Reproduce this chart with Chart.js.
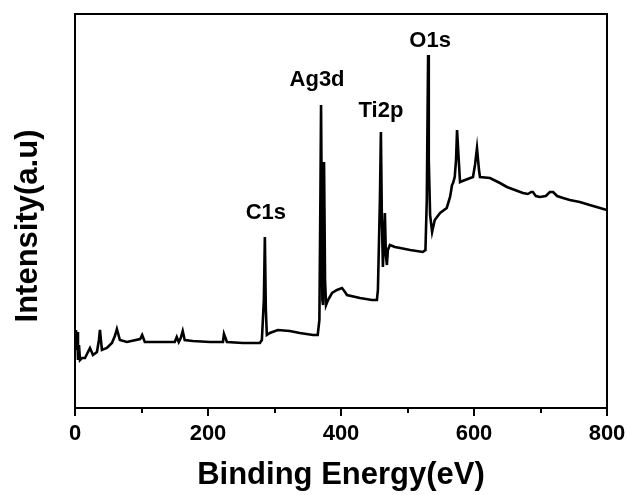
<!DOCTYPE html>
<html lang="en">
<head>
  <meta charset="UTF-8">
  <title>XPS survey spectrum</title>
  <script src="https://cdn.jsdelivr.net/npm/chart.js"></script>
  <style>
    body {
      margin: 0;
      padding: 0;
      background: #fff;
    }
    #xps {
      display: block;
    }
  </style>
</head>
<body>
  <canvas id="xps" width="627" height="495"></canvas>

  <script>
    // Binding energy (eV) and intensity (a.u.)
    const energy = [
      0.8, 1.5, 2.5, 3.5, 4.5, 6, 7.5, 10.5, 15, 19.5, 22.5, 27, 33, 36, 37.5, 40.5,
      48, 55.5, 60, 63, 67.5, 78, 98, 101, 105, 128, 150, 153, 156, 159, 162, 165,
      177, 203, 222.5, 224, 228.5, 252.5, 278, 281, 284, 285.5, 287, 288.5, 293, 305,
      323, 338, 358, 365, 367.5, 369, 370, 371.5, 372, 373, 374.5, 376, 377.5, 380.5,
      386.5, 394, 401.5, 406, 409, 428.5, 446.5, 454, 455.5, 458.5, 460, 461.5, 463,
      464.5, 466, 467.5, 469, 470.5, 473.5, 481, 489, 504, 523, 527, 529, 531, 532,
      534, 537, 541, 549, 559, 564, 567, 568.5, 571, 573, 574.5, 577.5, 579, 586.5,
      598.5, 601.5, 604.5, 607.5, 609, 624, 639, 649.5, 661.5, 673.5, 681, 686, 688.5,
      693, 699, 708, 714, 719, 725, 734, 744, 759, 774, 789.5, 800
    ];
    const intensity = [
      63, 78, 58, 76, 48, 63, 48, 50, 50, 56, 60, 53, 56, 68, 78, 58,
      60, 65, 72, 79, 68, 66, 69, 73, 66, 66, 66, 71, 66, 70, 77, 68,
      67, 66, 66, 74, 66, 65, 65, 68, 108, 171, 98, 73, 75, 78,
      77, 75, 73, 73, 88, 208, 303, 158, 108, 103, 246, 128, 103, 108,
      115, 118, 120, 116, 113, 110, 108, 108, 118, 208, 276, 188, 141,
      168, 195, 153, 143, 158, 163, 161, 160, 158, 156, 158, 208, 353, 248,
      193, 176, 188, 195, 200, 211, 223, 225, 231, 248, 278, 243, 226, 228,
      231, 243, 260, 238, 231, 230, 225, 221, 218, 215, 214, 216, 216,
      212, 211, 212, 216, 216, 212, 210, 208, 206, 203, 200, 198
    ];

    // peak labels, anchored at (energy, intensity) of the text centre
    const peakNames = ['C1s', 'Ag3d', 'Ti2p', 'O1s'];
    const peakLabelEnergy = [287, 364, 460, 534];
    const peakLabelHeight = [195, 328, 297, 367];

    const xMajorTicks = [0, 200, 400, 600, 800];
    const xMinorTicks = [100, 300, 500, 700];

    const FONT = '"Liberation Sans", Arial, sans-serif';

    const framePlugin = {
      id: 'frame',
      afterDraw(chart) {
        const { ctx, chartArea: a, scales } = chart;
        const xs = scales.x, ys = scales.y;
        ctx.save();
        ctx.strokeStyle = '#000';
        ctx.lineWidth = 2;
        ctx.strokeRect(a.left, a.top, a.right - a.left, a.bottom - a.top);

        // tick marks pointing out of the bottom axis
        ctx.beginPath();
        xMajorTicks.forEach(v => {
          const px = Math.round(xs.getPixelForValue(v));
          ctx.moveTo(px, a.bottom);
          ctx.lineTo(px, a.bottom + 8);
        });
        xMinorTicks.forEach(v => {
          const px = Math.round(xs.getPixelForValue(v));
          ctx.moveTo(px, a.bottom);
          ctx.lineTo(px, a.bottom + 5);
        });
        ctx.stroke();

        ctx.fillStyle = '#000';
        ctx.textAlign = 'center';
        ctx.textBaseline = 'middle';
        ctx.font = 'bold 22px ' + FONT;
        xMajorTicks.forEach(v => {
          ctx.fillText(String(v), xs.getPixelForValue(v), a.bottom + 26);
        });

        peakNames.forEach((name, i) => {
          ctx.fillText(name, xs.getPixelForValue(peakLabelEnergy[i]), ys.getPixelForValue(peakLabelHeight[i]));
        });

        // axis titles
        ctx.font = 'bold 31px ' + FONT;
        ctx.fillText('Binding Energy(eV)', (a.left + a.right) / 2, 475);
        ctx.translate(28, 226);
        ctx.rotate(-Math.PI / 2);
        ctx.fillText('Intensity(a.u)', 0, 0);
        ctx.restore();
      }
    };

    const ctx = document.getElementById('xps').getContext('2d');
    new Chart(ctx, {
      type: 'line',
      data: {
        datasets: [{
          data: energy.map((e, i) => ({ x: e, y: intensity[i] })),
          borderColor: '#000',
          borderWidth: 2.6,
          pointRadius: 0,
          tension: 0,
          fill: false
        }]
      },
      options: {
        responsive: false,
        animation: false,
        layout: { padding: { top: 14, right: 20, left: 0, bottom: 0 } },
        plugins: {
          legend: { display: false },
          tooltip: { enabled: false }
        },
        scales: {
          x: {
            type: 'linear',
            min: 0,
            max: 800,
            grid: { display: false, drawTicks: false },
            border: { display: false },
            ticks: { display: false },
            afterFit(scale) { scale.height = 87; }
          },
          y: {
            min: 0,
            max: 394,
            grid: { display: false, drawTicks: false },
            border: { display: false },
            ticks: { display: false },
            afterFit(scale) { scale.width = 75; }
          }
        }
      },
      plugins: [framePlugin]
    });
  </script>
</body>
</html>
